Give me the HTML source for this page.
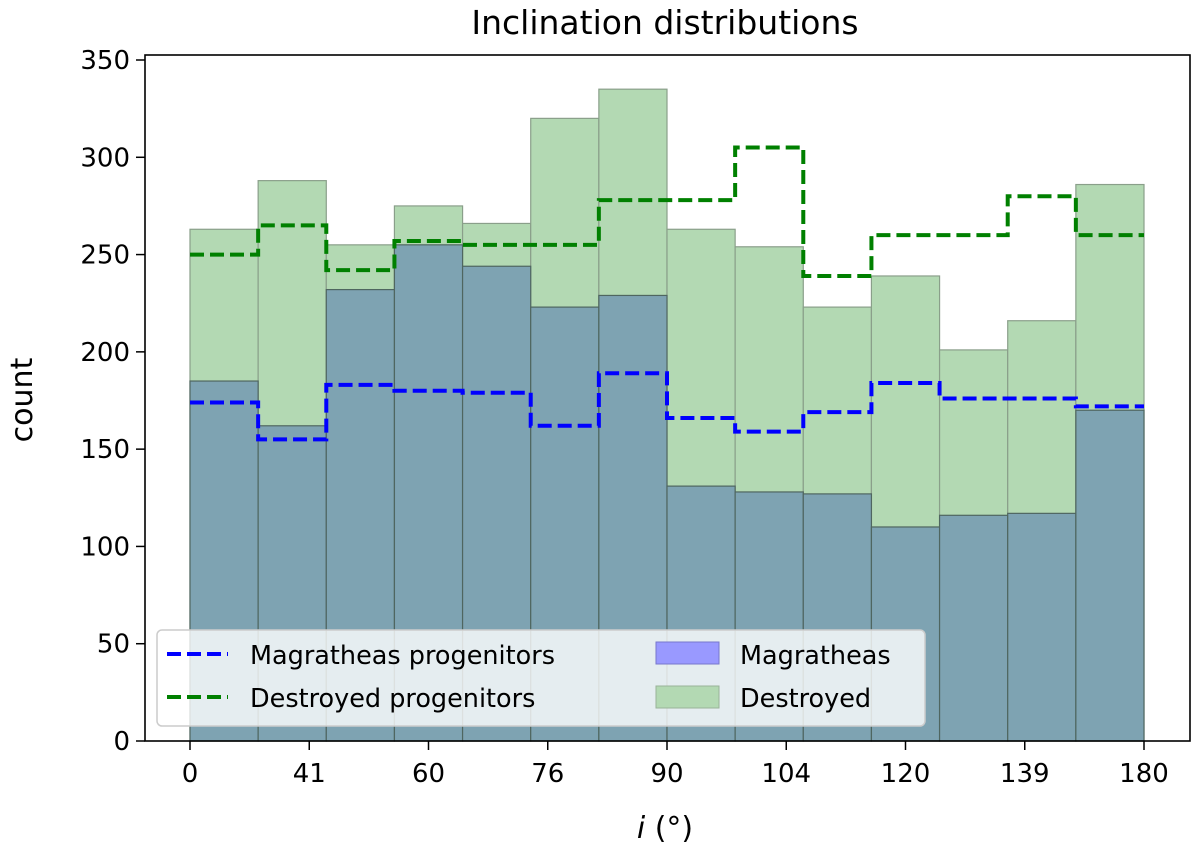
<!DOCTYPE html>
<html><head><meta charset="utf-8"><style>
body{margin:0;background:#fff;}
svg{font-family:"DejaVu Sans","Liberation Sans",sans-serif;}
</style></head><body>
<svg id="c" width="1200" height="851" xmlns="http://www.w3.org/2000/svg">
<text x="665" y="34" font-size="33" text-anchor="middle">Inclination distributions</text>
<g id="bars"></g><g id="steps"></g>
<rect x="145" y="55" width="1045" height="686" fill="none" stroke="#000" stroke-width="1.6"/>
<g id="axes"></g>
<text x="32" y="400" font-size="30" text-anchor="middle" transform="rotate(-90 32 400)">count</text>
<text x="665" y="838" font-size="30" text-anchor="middle"><tspan font-style="italic">i</tspan> (°)</text>
<g>
<rect x="157" y="630" width="768" height="96" rx="5" fill="#fff" fill-opacity="0.8" stroke="#ccc" stroke-width="1.5"/>
<line x1="167" y1="654" x2="228" y2="654" stroke="#0000ff" stroke-width="4" stroke-dasharray="14,6"/>
<text x="250" y="664" font-size="25.5">Magratheas progenitors</text>
<line x1="167" y1="697" x2="228" y2="697" stroke="#008000" stroke-width="4" stroke-dasharray="14,6"/>
<text x="250" y="707" font-size="25.5">Destroyed progenitors</text>
<rect x="656" y="642" width="63" height="22" fill="#9999ff" stroke="#7777cc"/>
<text x="740" y="664" font-size="25.5">Magratheas</text>
<rect x="656" y="686" width="63" height="22" fill="#b3d9b3" stroke="#99b399"/>
<text x="740" y="707" font-size="25.5">Destroyed</text>
</g>
</svg>
<script>
const destroyed=[263,288,255,275,266,320,335,263,254,223,239,201,216,286];
const magratheas=[185,162,232,255,244,223,229,131,128,127,110,116,117,170];
const magProg=[174,155,183,180,179,162,189,166,159,169,184,176,176,172];
const desProg=[250,265,242,257,255,255,278,278,305,239,260,260,280,260];
const xTickLabels=["0","41","60","76","90","104","120","139","180"];
const yTicks=[0,50,100,150,200,250,300,350];
const NS="http://www.w3.org/2000/svg";
const x0=190,x1=1144,nb=destroyed.length;
const xb=i=>x0+(x1-x0)*i/nb;
const y=v=>741-v*(741-60)/350;
function mk(t,a,p){const e=document.createElementNS(NS,t);for(const k in a)e.setAttribute(k,a[k]);p.appendChild(e);return e;}
const bars=document.getElementById('bars');
destroyed.forEach((v,i)=>{const r=mk('rect',{x:xb(i),y:y(v),width:xb(i+1)-xb(i),height:y(0)-y(v),fill:'#b3d9b3',stroke:'#8a9f8a','stroke-width':1.2},bars);

});
magratheas.forEach((v,i)=>{const r=mk('rect',{x:xb(i),y:y(v),width:xb(i+1)-xb(i),height:y(0)-y(v),fill:'#7ea3b2',stroke:'#4f6660','stroke-width':1.2},bars);

});
function step(arr,col,name){let d='';arr.forEach((v,i)=>{d+=(i?'L':'M')+xb(i)+' '+y(v)+'L'+xb(i+1)+' '+y(v);});
const p=mk('path',{d:d,fill:'none',stroke:col,'stroke-width':4,'stroke-dasharray':'14,6'},document.getElementById('steps'));

}
step(desProg,'#008000','destroyed-progenitors-line');
step(magProg,'#0000ff','magratheas-progenitors-line');
const ax=document.getElementById('axes');
xTickLabels.forEach((l,i)=>{const xx=x0+(x1-x0)*i/(xTickLabels.length-1);
mk('line',{x1:xx,x2:xx,y1:741,y2:750,stroke:'#000','stroke-width':1.5},ax);
const t=mk('text',{x:xx,y:782,'font-size':26,'text-anchor':'middle'},ax);t.textContent=l;

});
yTicks.forEach(v=>{mk('line',{x1:136,x2:145,y1:y(v),y2:y(v),stroke:'#000','stroke-width':1.5},ax);
const t=mk('text',{x:130,y:y(v)+9,'font-size':26,'text-anchor':'end'},ax);t.textContent=v;

});
</script>
</body></html>
